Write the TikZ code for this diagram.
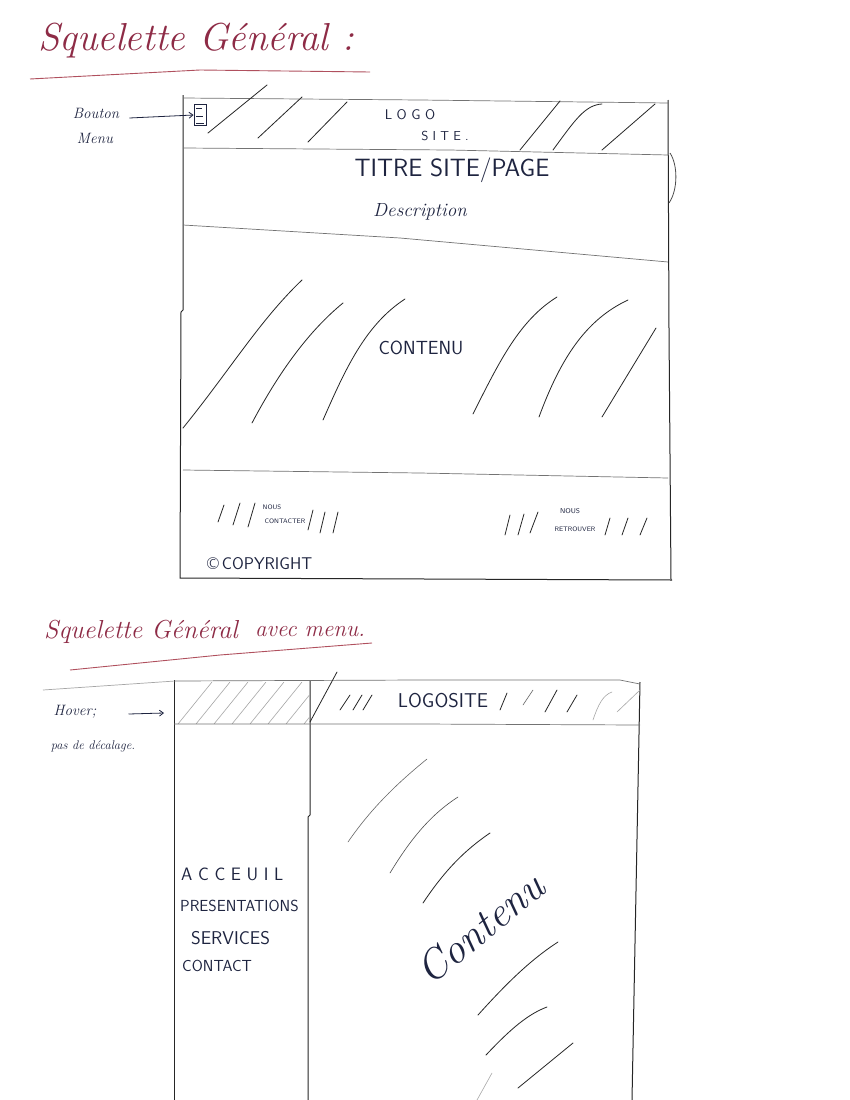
\documentclass[tikz,border=0pt]{standalone}
\usepackage{fontspec}
\usetikzlibrary{arrows.meta}
\definecolor{titleink}{HTML}{8E2B46}
\definecolor{titleline}{HTML}{B0505E}
\definecolor{ink}{HTML}{1E2440}
\tikzset{
  framerule/.style={black!85, line width=1pt},
  rule/.style={black!55, line width=0.7pt},
  hatch/.style={black!85, line width=0.8pt, line cap=round},
  lighthatch/.style={black!35, line width=0.6pt, line cap=round},
  hand/.style={text=ink, inner sep=0pt, font=\itshape},
  caps/.style={text=ink, inner sep=0pt, font=\sffamily},
  heading/.style={text=titleink, inner sep=0pt, font=\itshape},
  pointer/.style={ink, line width=0.8pt, -{Straight Barb[length=4pt,width=6pt]}},
}
\begin{document}
\begin{tikzpicture}[x=1pt, y=-1pt]
\useasboundingbox (0,0) rectangle (850,1100);
\fill[white] (0,0) rectangle (850,1100);

% ---------- first layout: general skeleton ----------
\node[heading, anchor=base west, font=\itshape\fontsize{39}{43}\selectfont] (title1) at (38,50) {Squelette Général :};
\draw[titleline, line width=0.9pt] (30,79) -- (200,70) -- (370,72);

\node[hand, font=\itshape\fontsize{15}{17}\selectfont] (btnlbl) at (96,113) {Bouton};
\node[hand, font=\itshape\fontsize{15}{17}\selectfont] (btnlbl2) at (95,138) {Menu};

% outer frame
\draw[framerule] (183,95) -- (183,310) -- (181,312) -- (180,578) -- (672,580);
\draw[framerule] (668,100) -- (669,330) -- (671,580);
\draw[rule] (183,98) -- (420,100) -- (668,103);
% small bulge on the right edge
\draw[black!70, line width=0.8pt] (670,153) .. controls (678,165) and (678,190) .. (669,203);

% header band
\draw[rule] (183,148) -- (450,150) -- (668,155);
\node[draw=ink, line width=0.8pt, minimum width=12pt, minimum height=21pt, inner sep=0pt] (menuicon) at (200,115) {};
\draw[ink, line width=0.7pt] (196,108) -- (202,108) (196,116) -- (203,116) (196,123) -- (204,123);
\draw[pointer] (btnlbl.east)++(10,5) coordinate (arrowstart) -- (menuicon.west);

\draw[hatch] (208,133) -- (267,85);
\draw[hatch] (258,138) -- (302,97);
\draw[hatch] (308,142) -- (347,102);
\draw[hatch] (520,150) -- (560,101);
\draw[hatch] (553,150) .. controls (575,120) and (585,105) .. (602,104);
\draw[hatch] (602,150) -- (655,104);

\node[caps, font=\sffamily\fontsize{14}{16}\selectfont] (logo) at (410,115) {L O G O};
\node[caps, font=\sffamily\fontsize{13}{15}\selectfont] (site) at (445,136) {S I T E .};
\node[caps, font=\sffamily\fontsize{25}{28}\selectfont] (pagetitle) at (452,170) {TITRE SITE/PAGE};
\node[hand, font=\itshape\fontsize{19}{21}\selectfont] (descr) at (420,212) {Description};

% content area
\draw[rule] (183,225) -- (400,238) -- (668,262);
\draw[hatch] (183,428) .. controls (230,370) and (260,320) .. (302,280);
\draw[hatch] (252,423) .. controls (280,370) and (310,330) .. (343,303);
\draw[hatch] (323,420) .. controls (345,370) and (365,325) .. (405,299);
\draw[hatch] (473,414) .. controls (500,360) and (520,320) .. (557,297);
\draw[hatch] (539,417) .. controls (560,360) and (585,320) .. (628,300);
\draw[hatch] (602,417) -- (656,328);
\node[caps, font=\sffamily\fontsize{19}{21}\selectfont] (content1) at (421,348) {CONTENU};

% footer
\draw[rule] (183,470) -- (420,473) -- (668,478);
\draw[hatch] (218,522) -- (224,505);
\draw[hatch] (233,525) -- (240,503);
\draw[hatch] (248,527) -- (255,503);
\node[caps, font=\sffamily\fontsize{6.5}{7}\selectfont] (contact1) at (272,507) {NOUS};
\node[caps, font=\sffamily\fontsize{6.5}{7}\selectfont] (contact2) at (285,521) {CONTACTER};
\draw[hatch] (308,530) -- (313,510);
\draw[hatch] (320,533) -- (325,512);
\draw[hatch] (333,533) -- (338,512);
\draw[hatch] (505,535) -- (510,515);
\draw[hatch] (518,535) -- (524,514);
\draw[hatch] (530,533) -- (538,512);
\node[caps, font=\sffamily\fontsize{7}{8}\selectfont] (find1) at (570,511) {NOUS};
\node[caps, font=\sffamily\fontsize{6.5}{7}\selectfont] (find2) at (575,529) {RETROUVER};
\draw[hatch] (605,535) -- (610,518);
\draw[hatch] (622,535) -- (628,518);
\draw[hatch] (640,535) -- (647,518);
\node[caps, anchor=west, font=\sffamily\fontsize{17}{19}\selectfont] (copy) at (207,564) {\textcopyright\,COPYRIGHT};

% ---------- second layout: skeleton with menu ----------
\node[heading, anchor=base west, font=\itshape\fontsize{26}{30}\selectfont] (title2) at (44,638) {Squelette Général};
\node[heading, anchor=base west, font=\itshape\fontsize{23}{26}\selectfont] (title2b) at (255,636) {avec menu.};
\draw[titleline, line width=0.9pt] (70,670) -- (220,655) -- (372,643);
\draw[black!35, line width=0.7pt] (43,690) -- (175,681);

\node[hand, font=\itshape\fontsize{15}{17}\selectfont] (hoverlbl) at (75,712) {Hover;};
\node[hand, font=\itshape\fontsize{12.5}{14}\selectfont] (hoverlbl2) at (93,746) {pas de décalage.};
\coordinate (menuband) at (164,713);
\draw[pointer] (hoverlbl.east)++(32,2) coordinate (hoverarrow) -- (menuband);

% lightly hatched menu header cell
\begin{scope}
  \clip (175,682) rectangle (309,723);
  \foreach \xx in {178,196,214,232,250,268,286,304}
    \draw[lighthatch] (\xx,724) -- (\xx+34,682);
\end{scope}

% frame
\draw[framerule] (174,680) -- (174,1100);
\draw[framerule] (310,680) -- (310,815) -- (308,817) -- (308,1100);
\draw[framerule] (640,682) -- (632,1100);
\draw[rule] (174,681) -- (420,680) -- (620,680) -- (640,684);
\draw[rule] (174,724) -- (420,724) -- (640,725);

% header band of the content column
\draw[hatch] (310,722) -- (337,672);
\draw[hatch] (340,710) -- (350,695);
\draw[hatch] (353,710) -- (362,695);
\draw[hatch] (363,710) -- (372,695);
\node[caps, font=\sffamily\fontsize{20}{22}\selectfont] (logo2) at (443,701) {LOGOSITE};
\draw[hatch] (500,710) -- (507,693);
\draw[lighthatch, black!60] (523,705) -- (533,690);
\draw[hatch] (545,712) -- (557,690);
\draw[hatch] (567,712) -- (577,695);
\draw[lighthatch] (593,720) .. controls (598,705) and (603,695) .. (612,692);
\draw[lighthatch] (617,712) -- (640,690);

% menu entries
\node[caps, anchor=west, font=\sffamily\fontsize{18}{20}\selectfont] (item1) at (181,874) {A C C E U I L};
\node[caps, anchor=west, font=\sffamily\fontsize{16}{18}\selectfont] (item2) at (180,906) {PRESENTATIONS};
\node[caps, anchor=west, font=\sffamily\fontsize{18.5}{20}\selectfont] (item3) at (191,938) {SERVICES};
\node[caps, anchor=west, font=\sffamily\fontsize{16}{18}\selectfont] (item4) at (182,966) {CONTACT};

% content column
\draw[lighthatch, black!60] (348,842) .. controls (370,810) and (395,785) .. (427,759);
\draw[lighthatch, black!70] (390,873) .. controls (410,840) and (430,815) .. (458,797);
\draw[hatch] (423,903) .. controls (445,870) and (465,850) .. (490,833);
\draw[hatch] (478,1015) .. controls (505,985) and (530,960) .. (558,942);
\draw[hatch] (486,1055) .. controls (505,1035) and (525,1015) .. (547,1007);
\draw[hatch] (518,1088) -- (573,1043);
\draw[lighthatch] (477,1100) -- (492,1073);
\node[hand, rotate=39, font=\itshape\fontsize{42}{46}\selectfont] (content2) at (480,928) {Contenu};
\end{tikzpicture}
\end{document}
